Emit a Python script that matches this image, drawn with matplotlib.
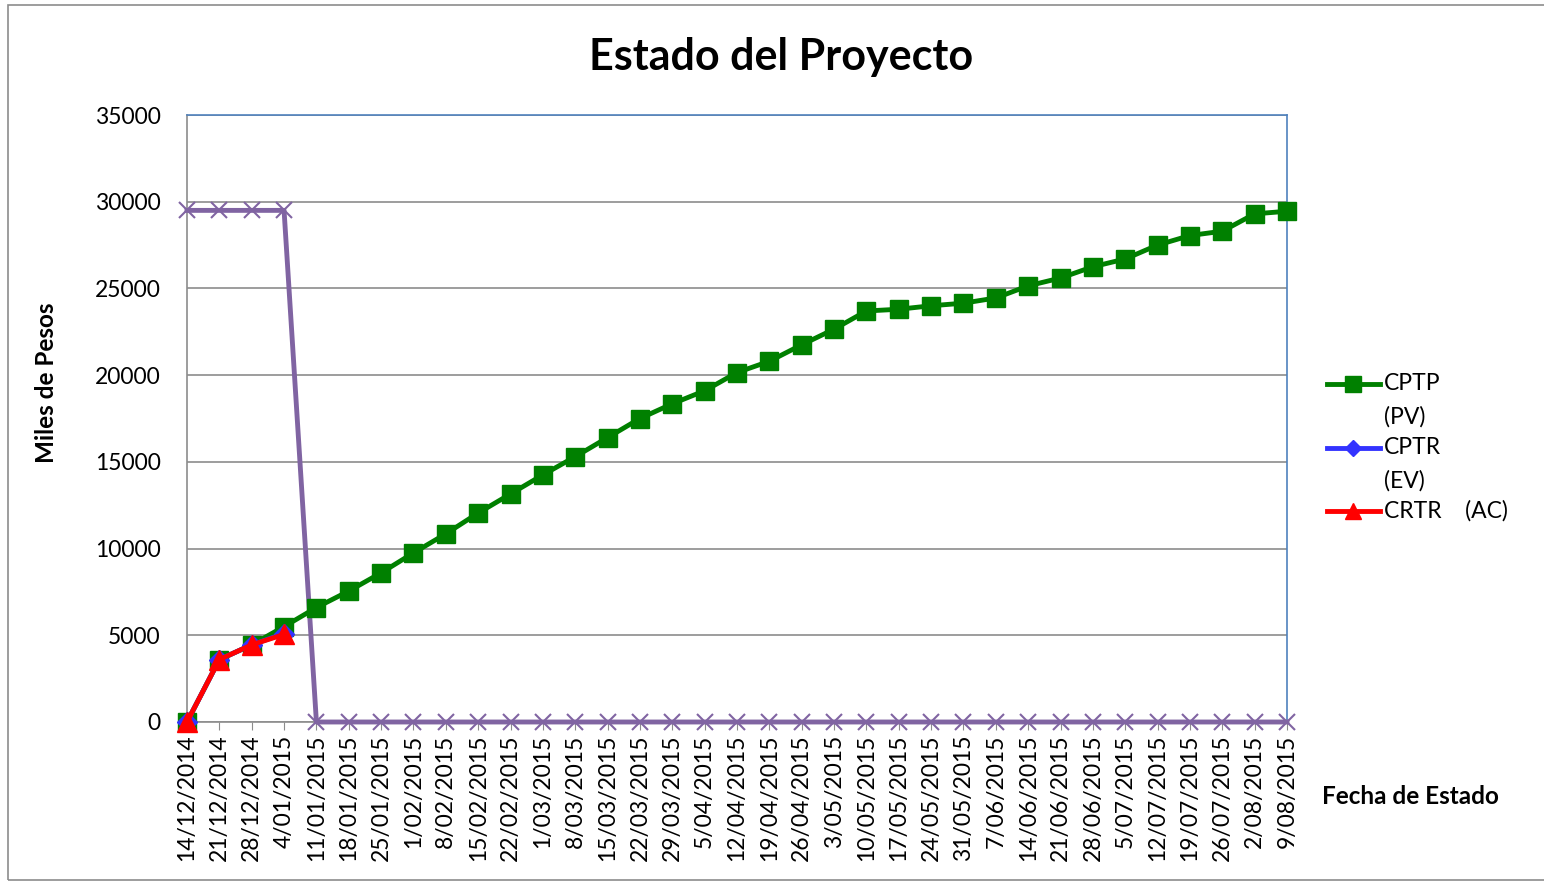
import numpy as np
import matplotlib.pyplot as plt
from matplotlib.patches import Rectangle
from matplotlib.lines import Line2D

plt.rcParams['font.family'] = ['Lato', 'DejaVu Sans']

# fechas de estado (semanales)
fechas = ['14/12/2014', '21/12/2014', '28/12/2014', '4/01/2015', '11/01/2015',
          '18/01/2015', '25/01/2015', '1/02/2015', '8/02/2015', '15/02/2015',
          '22/02/2015', '1/03/2015', '8/03/2015', '15/03/2015', '22/03/2015',
          '29/03/2015', '5/04/2015', '12/04/2015', '19/04/2015', '26/04/2015',
          '3/05/2015', '10/05/2015', '17/05/2015', '24/05/2015', '31/05/2015',
          '7/06/2015', '14/06/2015', '21/06/2015', '28/06/2015', '5/07/2015',
          '12/07/2015', '19/07/2015', '26/07/2015', '2/08/2015', '9/08/2015']

# CPTP (PV)
cptp = [0, 3600, 4450, 5500, 6600, 7550, 8600, 9750, 10850, 12050,
        13150, 14250, 15300, 16400, 17500, 18350, 19100, 20150, 20800, 21750,
        22650, 23700, 23800, 24000, 24150, 24450, 25150, 25600, 26250, 26700,
        27500, 28050, 28300, 29300, 29450]
# CPTR (EV)
cptr = [0, 3600, 4450, 5100]
# CRTR (AC)
crtr = [0, 3600, 4450, 5050]
# linea de fecha de estado
corte = [29500, 29500, 29500, 29500] + [0] * 31

x = np.arange(len(fechas))

fig = plt.figure(figsize=(15.44, 8.85), dpi=100)
ax = fig.add_axes([187 / 1544, 1 - 722 / 885, 1100 / 1544, 607 / 885])

# marco exterior
fig.patches.append(Rectangle((8 / 1544, 1 - 880 / 885), 1.0, 875 / 885,
                             transform=fig.transFigure, fill=False,
                             edgecolor='#8c8c8c', lw=1.2))

ax.plot(x, corte, color='#8064A2', lw=3.5, marker='x', ms=11, mew=1.5,
        zorder=3, clip_on=False)
ax.plot(x, cptp, color='#008000', lw=3.5, marker='s', ms=13, zorder=4,
        clip_on=False)
ax.plot(x[:4], cptr, color='#3333FF', lw=3.5, marker='D', ms=10, zorder=5,
        clip_on=False)
ax.plot(x[:4], crtr, color='#FF0000', lw=3.5, marker='^', ms=14, zorder=6,
        clip_on=False)

ax.set_xlim(0, len(fechas) - 1)
ax.set_ylim(0, 35000)
ax.set_yticks(range(0, 35001, 5000))
ax.set_xticks(x)
ax.set_xticklabels(fechas, rotation=90, fontsize=16.5)
ax.tick_params(axis='y', labelsize=16.5, length=0, pad=19)
ax.tick_params(axis='x', length=6, color='#8c8c8c', pad=3)
ax.yaxis.grid(True, color='#8c8c8c', lw=1.2)
ax.set_axisbelow(True)

for s in ['left', 'bottom']:
    ax.spines[s].set_color('#8c8c8c')
for s in ['top', 'right']:
    ax.spines[s].set_color('#4F81BD')
for s in ax.spines.values():
    s.set_linewidth(1.2)

fig.text(781 / 1544, 1 - 57 / 885, 'Estado del Proyecto', fontsize=31,
         fontweight='bold', ha='center', va='center')
fig.text(47 / 1544, 1 - 383 / 885, 'Miles de Pesos', fontsize=17.5,
         fontweight='bold', rotation=90, ha='center', va='center')
fig.text(1322 / 1544, 1 - 797 / 885, 'Fecha de Estado', fontsize=17.5,
         fontweight='bold', ha='left', va='center')

# leyenda dibujada a mano (texto partido en dos lineas como en Excel)
lax = fig.add_axes([0, 0, 1, 1], facecolor='none')
lax.set_xlim(0, 1544)
lax.set_ylim(885, 0)
lax.axis('off')
leyenda = [('CPTP', '(PV)', '#008000', 's', 13, 384),
           ('CPTR', '(EV)', '#3333FF', 'D', 10, 448),
           ('CRTR    (AC)', None, '#FF0000', '^', 14, 511)]
for nombre, sufijo, color, mk, ms, yy in leyenda:
    lax.add_line(Line2D([1327, 1380], [yy, yy], color=color, lw=3.5))
    lax.add_line(Line2D([1353], [yy], color=color, marker=mk, ms=ms * 0.85))
    lax.text(1384, yy, nombre, fontsize=16.5, va='center', ha='left')
    if sufijo:
        lax.text(1384, yy + 33, sufijo, fontsize=16.5, va='center', ha='left')

fig.savefig('out.png', dpi=100)
